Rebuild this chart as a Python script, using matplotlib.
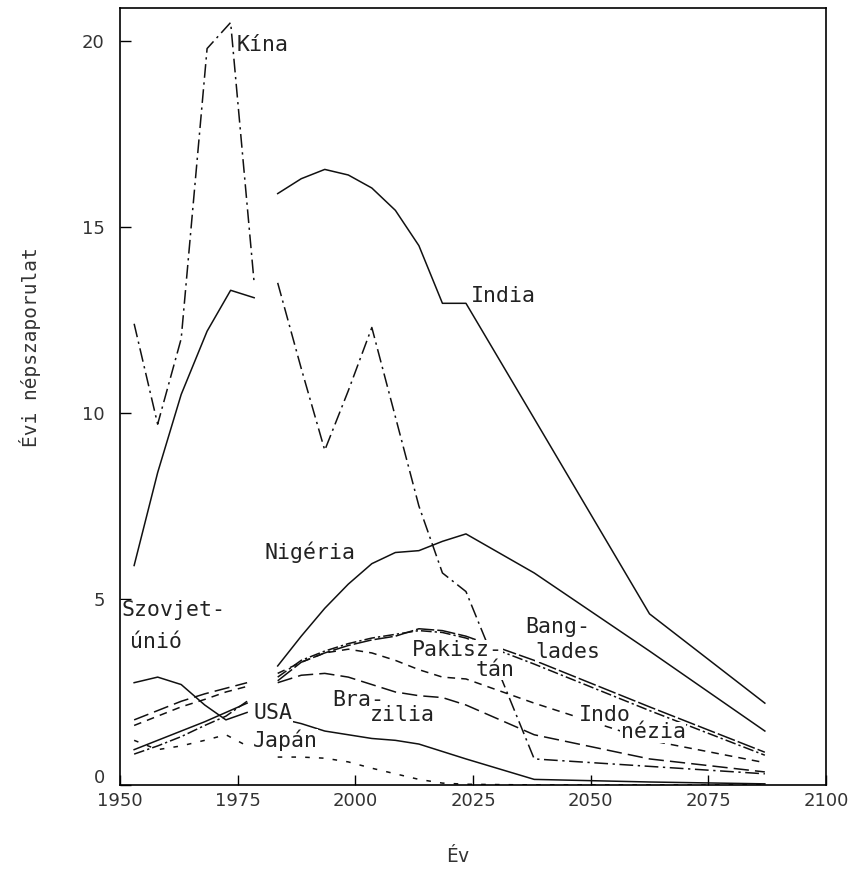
import numpy as np
import matplotlib.pyplot as plt

plt.rcParams['font.family'] = ['DejaVu Sans Mono', 'DejaVu Sans']

# time axis: observed period and projection period
years_obs = [1953, 1958, 1963, 1968.5, 1973.5, 1978.5]
years_obs_small = [1953, 1958, 1963, 1968, 1972.5, 1977]
years_proj = [1983.5, 1988.5, 1993.5, 1998.5, 2003.5, 2008.5, 2013.5,
              2018.5, 2023.5, 2038, 2062.5, 2087]

# annual population growth (million / year)
kina_obs = [12.4, 9.7, 12.0, 19.8, 20.5, 13.5]
kina_proj = [13.5, 11.2, 9.0, 10.6, 12.3, 9.9, 7.5, 5.7, 5.2, 0.7, 0.5, 0.3]

india_obs = [5.9, 8.4, 10.5, 12.2, 13.3, 13.1]
india_proj = [15.9, 16.3, 16.55, 16.4, 16.05, 15.45, 14.5, 12.95, 12.95, 9.85, 4.6, 2.2]

nigeria_proj = [3.2, 4.0, 4.75, 5.4, 5.95, 6.25, 6.3, 6.55, 6.75, 5.7, 3.6, 1.45]

szovjet_obs = [2.75, 2.9, 2.7, 2.15, 1.75, 1.95]

usa_obs = [0.95, 1.2, 1.45, 1.7, 1.95, 2.2]
usa_proj = [1.8, 1.65, 1.45, 1.35, 1.25, 1.2, 1.1, 0.9, 0.7, 0.15, 0.08, 0.03]

pakisztan_obs = [0.83, 1.05, 1.3, 1.6, 1.85, 2.25]
pakisztan_proj = [2.9, 3.35, 3.6, 3.8, 3.95, 4.05, 4.15, 4.1, 3.95, 3.25, 2.0, 0.8]

banglades_proj = [2.8, 3.3, 3.55, 3.75, 3.9, 4.0, 4.2, 4.15, 4.0, 3.35, 2.1, 0.88]

indonezia_obs = [1.6, 1.85, 2.1, 2.3, 2.5, 2.65]
indonezia_proj = [3.0, 3.3, 3.55, 3.65, 3.55, 3.35, 3.1, 2.9, 2.85, 2.2, 1.2, 0.6]

brazilia_obs = [1.75, 2.0, 2.25, 2.45, 2.6, 2.75]
brazilia_proj = [2.75, 2.95, 3.0, 2.9, 2.7, 2.5, 2.4, 2.35, 2.15, 1.35, 0.7, 0.35]

japan_obs = [1.2, 0.95, 1.05, 1.2, 1.35, 1.05]
japan_proj = [0.75, 0.75, 0.72, 0.62, 0.45, 0.3, 0.15, 0.05, 0.02, 0.0, 0.0, 0.0]

series = [
    (years_obs, kina_obs, kina_proj, (0, (9, 3, 1.5, 3))),
    (years_obs, india_obs, india_proj, '-'),
    (years_obs_small, None, nigeria_proj, '-'),
    (years_obs_small, szovjet_obs, None, '-'),
    (years_obs_small, usa_obs, usa_proj, '-'),
    (years_obs_small, pakisztan_obs, pakisztan_proj, (0, (7, 2, 1.5, 2))),
    (years_obs_small, None, banglades_proj, (0, (12, 2))),
    (years_obs_small, indonezia_obs, indonezia_proj, (0, (5, 4))),
    (years_obs_small, brazilia_obs, brazilia_proj, (0, (10, 4))),
    (years_obs_small, japan_obs, japan_proj, (0, (3, 6))),
]

# country names, anchored at their left edge
labels = [
    ('Kína', 1974.8, 19.9),
    ('India', 2024.6, 13.15),
    ('Nigéria', 1980.7, 6.26),
    ('Szovjet-', 1950.4, 4.7),
    ('únió', 1952.1, 3.85),
    ('USA', 1978.4, 1.94),
    ('Japán', 1978.2, 1.2),
    ('Bra-', 1995.1, 2.28),
    ('zilia', 2003.0, 1.88),
    ('Pakisz-', 2012.0, 3.63),
    ('tán', 2025.6, 3.09),
    ('Bang-', 2036.2, 4.25),
    ('lades', 2038.3, 3.58),
    ('Indo', 2047.5, 1.88),
    ('nézia', 2056.4, 1.42),
]

fig = plt.figure(figsize=(8.56, 8.69), dpi=100)
ax = fig.add_axes([0.1402, 0.0967, 0.8248, 0.8941])

for yrs, obs, proj, ls in series:
    x = list(yrs) + [np.nan] + years_proj
    y_obs = obs if obs is not None else [np.nan] * len(yrs)
    y_proj = proj if proj is not None else [np.nan] * len(years_proj)
    y = list(y_obs) + [np.nan] + list(y_proj)
    ax.plot(x, y, color='#111111', linestyle=ls, linewidth=1.1)

for txt, x, y in labels:
    ax.text(x, y, txt, fontsize=15.5, ha='left', va='center', color='#222222',
            zorder=5,
            bbox=dict(facecolor='white', edgecolor='none', pad=0.3))

ax.set_xlim(1950, 2100)
ax.set_ylim(0, 20.89)
ax.set_xticks([1950, 1975, 2000, 2025, 2050, 2075, 2100])
ax.set_yticks([0, 5, 10, 15, 20])
ax.set_yticklabels(['', '5', '10', '15', '20'])
ax.tick_params(axis='x', direction='in', length=7, width=1, pad=5,
               labelsize=13, labelcolor='#333333')
ax.tick_params(axis='y', direction='in', length=8, width=1, pad=11,
               labelsize=13, labelcolor='#333333')
for lab in ax.get_xticklabels() + ax.get_yticklabels():
    lab.set_family('DejaVu Sans')
for sp in ax.spines.values():
    sp.set_linewidth(1.2)

# zero label sits a bit higher so it clears the 1950 label
ax.annotate('0', xy=(0, 0), xycoords=('axes fraction', 'data'),
            xytext=(-11, 5), textcoords='offset points', ha='right', va='center',
            fontsize=13, color='#333333', family='DejaVu Sans')

fig.text(0.535, 0.014, 'Év', fontsize=14, color='#333333', ha='center', va='center')
fig.text(0.035, 0.6, 'Évi népszaporulat', fontsize=14, color='#333333',
         rotation=90, ha='center', va='center')

fig.savefig('out.png', dpi=100)
